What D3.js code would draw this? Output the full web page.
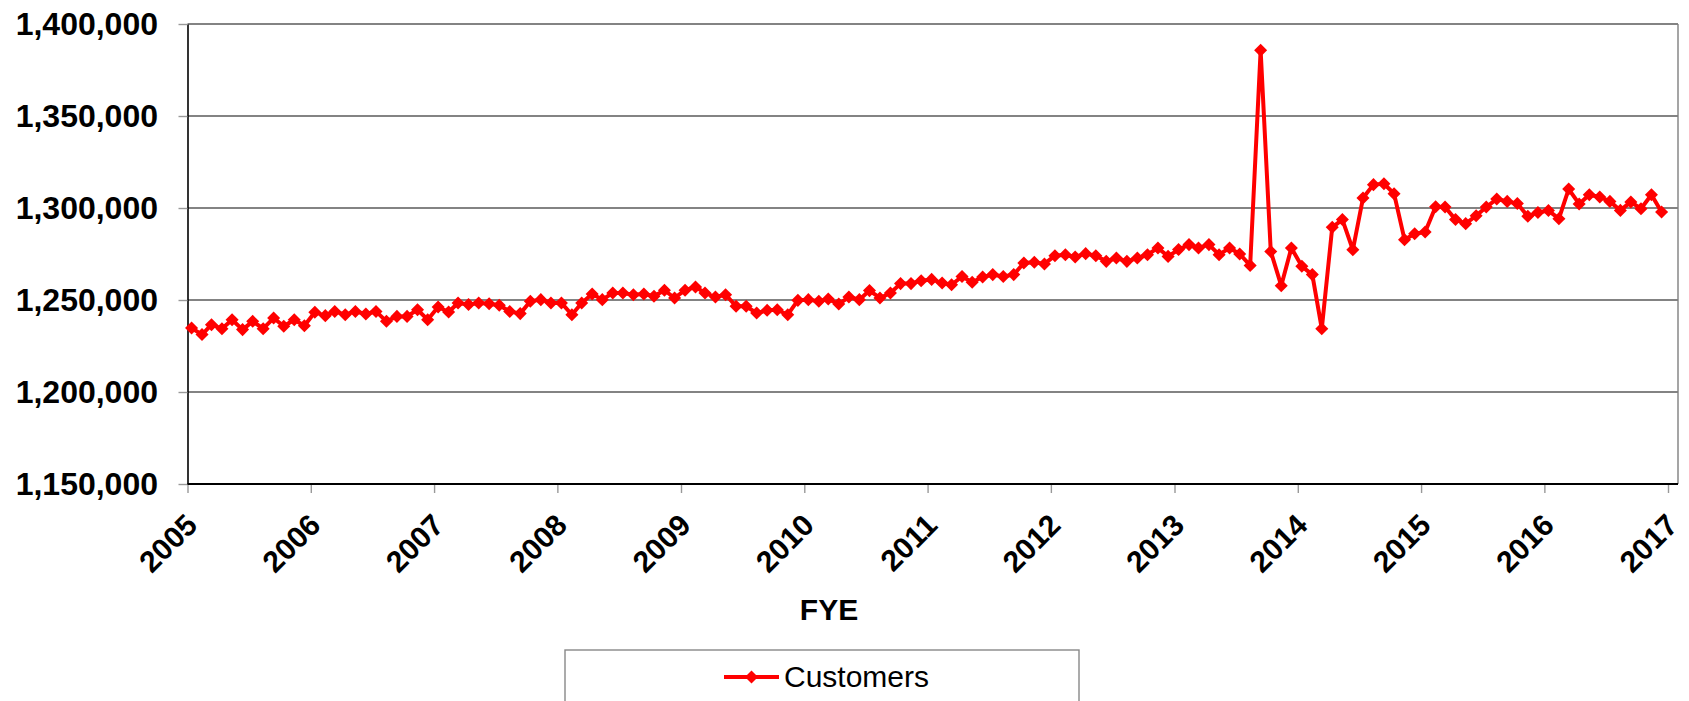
<!DOCTYPE html>
<html>
<head>
<meta charset="utf-8">
<script src="https://cdn.jsdelivr.net/npm/d3@7/dist/d3.min.js"></script>
<style>
  body { margin: 0; background: #fff; }
  svg text { font-family: "Liberation Sans", Arial, sans-serif; }
</style>
</head>
<body>
<div id="vis_1"></div>
<script>
// monthly customer counts, one array per year (Jan..Dec)
var fy2005 = [1234800, 1231200, 1236600, 1234400, 1239300, 1233900, 1238400, 1234400, 1240200, 1235700, 1239300, 1236000];
var fy2006 = [1243300, 1241500, 1243800, 1242000, 1243800, 1242400, 1243800, 1238400, 1241100, 1241100, 1244700, 1239300];
var fy2007 = [1246200, 1243500, 1248400, 1247500, 1248400, 1248000, 1247100, 1243800, 1242600, 1249300, 1250200, 1248400];
var fy2008 = [1248400, 1242000, 1248400, 1253300, 1250200, 1253800, 1253800, 1252900, 1253300, 1252000, 1255300, 1251100];
var fy2009 = [1255300, 1257100, 1253800, 1251600, 1252900, 1246600, 1246600, 1242900, 1244400, 1244700, 1242000, 1249800];
var fy2010 = [1250200, 1249300, 1250500, 1247800, 1251600, 1250200, 1255100, 1251100, 1253800, 1258900, 1258900, 1260500];
var fy2011 = [1261200, 1259200, 1258300, 1262800, 1259600, 1262500, 1263800, 1262800, 1263800, 1270100, 1270500, 1269600];
var fy2012 = [1274100, 1274600, 1273400, 1275200, 1274100, 1271000, 1272800, 1271000, 1272800, 1274600, 1278300, 1273700];
var fy2013 = [1277400, 1280100, 1278300, 1280100, 1274600, 1278300, 1275000, 1268800, 1385700, 1276400, 1257800, 1278300];
var fy2014 = [1268300, 1263800, 1234400, 1289500, 1293700, 1277300, 1305400, 1312700, 1313200, 1307800, 1282800, 1286000];
var fy2015 = [1287000, 1300700, 1300500, 1293700, 1291500, 1295800, 1300500, 1304900, 1303600, 1302400, 1295500, 1297600];
var fy2016 = [1298600, 1294200, 1310300, 1302200, 1307200, 1306000, 1303600, 1298700, 1303300, 1299600, 1307200, 1297800];

var years = [2005, 2006, 2007, 2008, 2009, 2010, 2011, 2012, 2013, 2014, 2015, 2016, 2017];
var yTicks = [1150000, 1200000, 1250000, 1300000, 1350000, 1400000];
var seriesName = "Customers";
var axisTitle = "FYE";

var customers = [].concat(fy2005, fy2006, fy2007, fy2008, fy2009, fy2010,
                          fy2011, fy2012, fy2013, fy2014, fy2015, fy2016);

// points sit a little after the start of each month
var months = d3.timeMonth.range(new Date(2005, 0, 1), new Date(2017, 0, 1));
var data = months.map(function (m, i) {
    return {date: d3.timeDay.offset(m, 12), value: customers[i]};
});

var W = 1689, H = 701;
var plot = {left: 187.5, right: 1678, top: 24, bottom: 484};

var svg = d3.select("#vis_1")
    .append("svg")
    .attr("width", W)
    .attr("height", H);

var x = d3.scaleTime()
    .domain([new Date(2005, 0, 1), new Date(2017, 0, 1)])
    .range([plot.left, 1668]);

var y = d3.scaleLinear()
    .domain([1150000, 1400000])
    .range([plot.bottom, plot.top]);

// horizontal gridlines
svg.append("g")
    .selectAll("line")
    .data(yTicks)
    .enter()
    .append("line")
    .attr("x1", plot.left)
    .attr("x2", plot.right)
    .attr("y1", function (d) { return y(d); })
    .attr("y2", function (d) { return y(d); })
    .attr("stroke", "#5a5a5a")
    .attr("stroke-width", 1.4);

// right border of plot area
svg.append("line")
    .attr("x1", plot.right).attr("x2", plot.right)
    .attr("y1", plot.top).attr("y2", plot.bottom)
    .attr("stroke", "#7f7f7f")
    .attr("stroke-width", 1.4);

// Y axis
var yAxis = svg.append("g")
    .attr("transform", "translate(" + plot.left + ",0)")
    .call(d3.axisLeft(y)
        .tickValues(yTicks)
        .tickSize(9)
        .tickSizeOuter(0)
        .tickPadding(20.5)
        .tickFormat(d3.format(",")));
yAxis.select(".domain").attr("stroke", "#000").attr("stroke-width", 1.6);
yAxis.selectAll(".tick line").attr("stroke", "#999").attr("stroke-width", 1.4);
yAxis.selectAll("text")
    .attr("fill", "#000")
    .style("font-size", "32px")
    .style("font-weight", "bold");

// X axis
var xAxis = svg.append("g")
    .attr("transform", "translate(0," + plot.bottom + ")")
    .call(d3.axisBottom(x)
        .tickValues(years.map(function (yr) { return new Date(yr, 0, 1); }))
        .tickSize(9)
        .tickSizeOuter(0)
        .tickFormat(d3.timeFormat("%Y")));
xAxis.select(".domain").remove();
xAxis.selectAll(".tick line").attr("stroke", "#999").attr("stroke-width", 1.4);
xAxis.selectAll("text")
    .attr("fill", "#000")
    .attr("y", 0)
    .attr("dy", 0)
    .attr("text-anchor", "end")
    .attr("transform", "translate(11,43) rotate(-45)")
    .style("font-size", "30px")
    .style("font-weight", "bold");

svg.append("line")
    .attr("x1", plot.left).attr("x2", plot.right)
    .attr("y1", plot.bottom).attr("y2", plot.bottom)
    .attr("stroke", "#000")
    .attr("stroke-width", 2);

svg.append("text")
    .attr("x", 829)
    .attr("y", 620)
    .attr("text-anchor", "middle")
    .style("font-size", "30px")
    .style("font-weight", "bold")
    .text(axisTitle);

// the series line
var line = d3.line()
    .x(function (d) { return x(d.date); })
    .y(function (d) { return y(d.value); });

svg.append("path")
    .datum(data)
    .attr("d", line)
    .attr("fill", "none")
    .attr("stroke", "#ff0000")
    .attr("stroke-width", 4)
    .attr("stroke-linejoin", "round");

var diamond = d3.symbol().type(d3.symbolSquare).size(85);

svg.append("g")
    .selectAll("path")
    .data(data)
    .enter()
    .append("path")
    .attr("d", diamond)
    .attr("transform", function (d) {
        return "translate(" + x(d.date) + "," + y(d.value) + ") rotate(45)";
    })
    .attr("fill", "#ff0000");

// legend
var legend = svg.append("g");
legend.append("rect")
    .attr("x", 565).attr("y", 650)
    .attr("width", 514).attr("height", 70)
    .attr("fill", "#fff")
    .attr("stroke", "#888")
    .attr("stroke-width", 1.4);
legend.append("line")
    .attr("x1", 724).attr("x2", 779)
    .attr("y1", 677).attr("y2", 677)
    .attr("stroke", "#ff0000")
    .attr("stroke-width", 4);
legend.append("path")
    .attr("d", diamond)
    .attr("transform", "translate(751.5,677) rotate(45)")
    .attr("fill", "#ff0000");
legend.append("text")
    .attr("x", 784)
    .attr("y", 687)
    .style("font-size", "30px")
    .text(seriesName);
</script>
</body>
</html>
